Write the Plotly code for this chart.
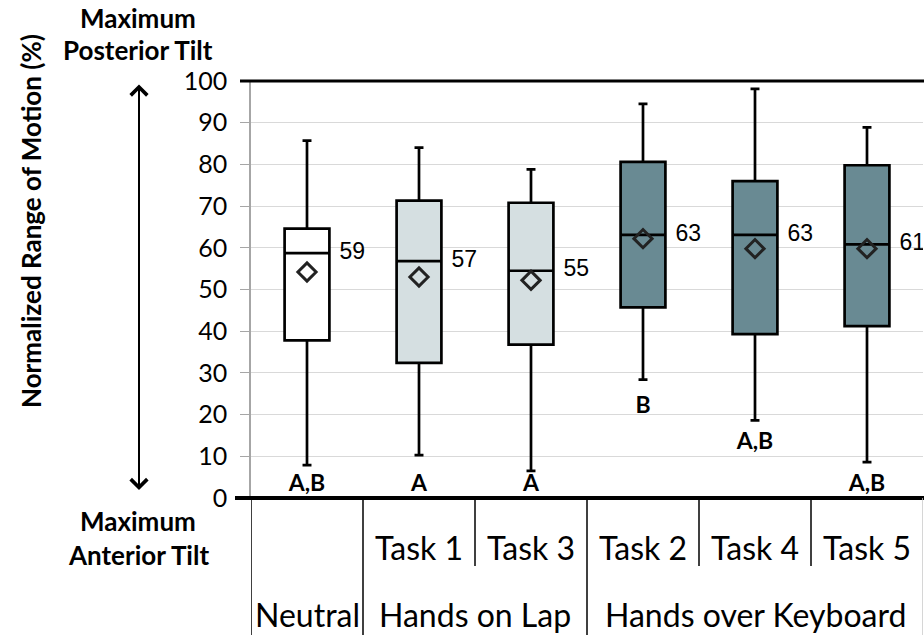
import plotly.graph_objects as go

# ---------------- data ----------------
tasks = ["", "Task 1", "Task 3", "Task 2", "Task 4", "Task 5"]
groups = ["Neutral", "Hands on Lap", "Hands on Lap",
          "Hands over Keyboard", "Hands over Keyboard", "Hands over Keyboard"]
upper = [85.7, 84.0, 78.8, 94.5, 98.1, 88.9]
q3 = [64.6, 71.3, 70.8, 80.6, 76.0, 79.8]
median = [58.7, 56.8, 54.5, 63.1, 63.1, 60.8]
q1 = [37.8, 32.4, 36.8, 45.7, 39.3, 41.2]
lower = [7.9, 10.3, 6.5, 28.4, 18.6, 8.6]
mean = [54.2, 53.0, 52.2, 62.2, 59.8, 59.8]
median_labels = ["59", "57", "55", "63", "63", "61"]
letters = ["A,B", "A", "A", "B", "A,B", "A,B"]
letter_y = [3.1, 3.1, 3.1, 21.8, 13.2, 3.1]
y_ticks = list(range(0, 101, 10))

# ---------------- style ----------------
fills = ["#ffffff", "#d5dfe1", "#d5dfe1", "#698a93", "#698a93", "#698a93"]
FONT = "Lato"
W, H = 924, 635
ML, MR, MT, MB = 251, 1, 81, 137
PW = W - ML - MR
PH = H - MT - MB


def px_x(px):
    return (px - ML) / PW


def px_y(py):
    return (H - MB - py) / PH


fig = go.Figure()
xs = list(range(len(tasks)))

for i in xs:
    fig.add_trace(go.Box(
        x=[i], q1=[q1[i]], median=[median[i]], q3=[q3[i]],
        lowerfence=[lower[i]], upperfence=[upper[i]],
        width=0.4, whiskerwidth=0.2,
        fillcolor=fills[i], line=dict(color="black", width=2.7),
        boxpoints=False, showlegend=False, hoverinfo="skip",
    ))

fig.add_trace(go.Scatter(
    x=xs, y=mean, mode="markers",
    marker=dict(symbol="diamond-open", size=14, color="#222222",
                line=dict(width=3, color="#222222")),
    showlegend=False, hoverinfo="skip",
))

fig.add_trace(go.Scatter(
    x=[i + 0.29 for i in xs], y=median, mode="text", text=median_labels,
    textposition="middle right",
    textfont=dict(family="Liberation Sans", size=23, color="black"),
    showlegend=False, hoverinfo="skip",
))

fig.add_trace(go.Scatter(
    x=xs, y=letter_y, mode="text", text=[f"<b>{t}</b>" for t in letters],
    textposition="middle center",
    textfont=dict(family=FONT, size=23, color="black"),
    showlegend=False, hoverinfo="skip",
))

shapes = []
# thick top and zero lines
shapes.append(dict(type="line", xref="paper", yref="paper", x0=px_x(240), x1=1.01,
                   y0=1, y1=1, line=dict(color="black", width=3)))
shapes.append(dict(type="line", xref="paper", yref="paper", x0=px_x(235), x1=1.01,
                   y0=0, y1=0, line=dict(color="black", width=4)))

# table below axis
row1_bottom = px_y(566)
table_bottom = px_y(640)
n = len(tasks)
for k in range(n + 1):
    xb = k - 0.5
    full = k == 0 or k == n or groups[k - 1] != groups[k]
    col = "#c8c8c8" if k == n else "black"
    shapes.append(dict(type="line", xref="x", yref="paper", x0=xb, x1=xb,
                       y0=0, y1=table_bottom if full else row1_bottom,
                       line=dict(color=col, width=1.5)))

annotations = []
tbl_font = dict(family=FONT, size=32, color="black")
for i in xs:
    if tasks[i]:
        annotations.append(dict(x=i, y=px_y(547), xref="x", yref="paper",
                                xanchor="center", yanchor="middle",
                                text=tasks[i], showarrow=False, font=tbl_font))
# group labels
spans = []
start = 0
for k in range(1, n + 1):
    if k == n or groups[k] != groups[start]:
        spans.append((groups[start], start, k - 1))
        start = k
for name, a, b in spans:
    annotations.append(dict(x=(a + b) / 2, y=px_y(614), xref="x", yref="paper",
                            xanchor="center", yanchor="middle",
                            text=name, showarrow=False, font=tbl_font))

# left-side labels
lab_font = dict(family=FONT, size=26, color="black")
for txt, py in [("Maximum", 18), ("Posterior Tilt", 50),
                ("Maximum", 521), ("Anterior Tilt", 555)]:
    annotations.append(dict(x=px_x(138), y=px_y(py), xref="paper", yref="paper",
                            xanchor="center", yanchor="middle",
                            text=f"<b>{txt}</b>", showarrow=False, font=lab_font))

annotations.append(dict(x=px_x(31), y=px_y(221), xref="paper", yref="paper",
                        xanchor="center", yanchor="middle",
                        text="<b>Normalized Range of Motion (%)</b>",
                        textangle=-90, showarrow=False,
                        font=dict(family=FONT, size=26, color="black")))

# double-headed arrow
annotations.append(dict(x=px_x(139), y=px_y(490), xref="paper", yref="paper",
                        ax=0, ay=-(490 - 83), axref="pixel", ayref="pixel",
                        text="", showarrow=True, arrowhead=4, startarrowhead=4,
                        arrowside="end+start", arrowsize=1.6, startarrowsize=1.6,
                        arrowwidth=2, arrowcolor="black"))

fig.update_layout(
    width=W, height=H,
    margin=dict(l=ML, r=MR, t=MT, b=MB, pad=0),
    paper_bgcolor="white", plot_bgcolor="white",
    shapes=shapes, annotations=annotations,
    xaxis=dict(range=[-0.5, n - 0.5], showticklabels=False, showgrid=False,
               zeroline=False, showline=False, ticks=""),
    yaxis=dict(range=[0, 100], tickvals=y_ticks, showgrid=True,
               gridcolor="#d9d9d9", gridwidth=1, zeroline=False,
               showline=True, linecolor="#a6a6a6", linewidth=1.5,
               ticks="outside", ticklen=9, tickcolor="#a6a6a6",
               tickfont=dict(family=FONT, size=25, color="black"),
               ticklabelstandoff=8),
    font=dict(family=FONT),
)

fig.write_html("out.html")
